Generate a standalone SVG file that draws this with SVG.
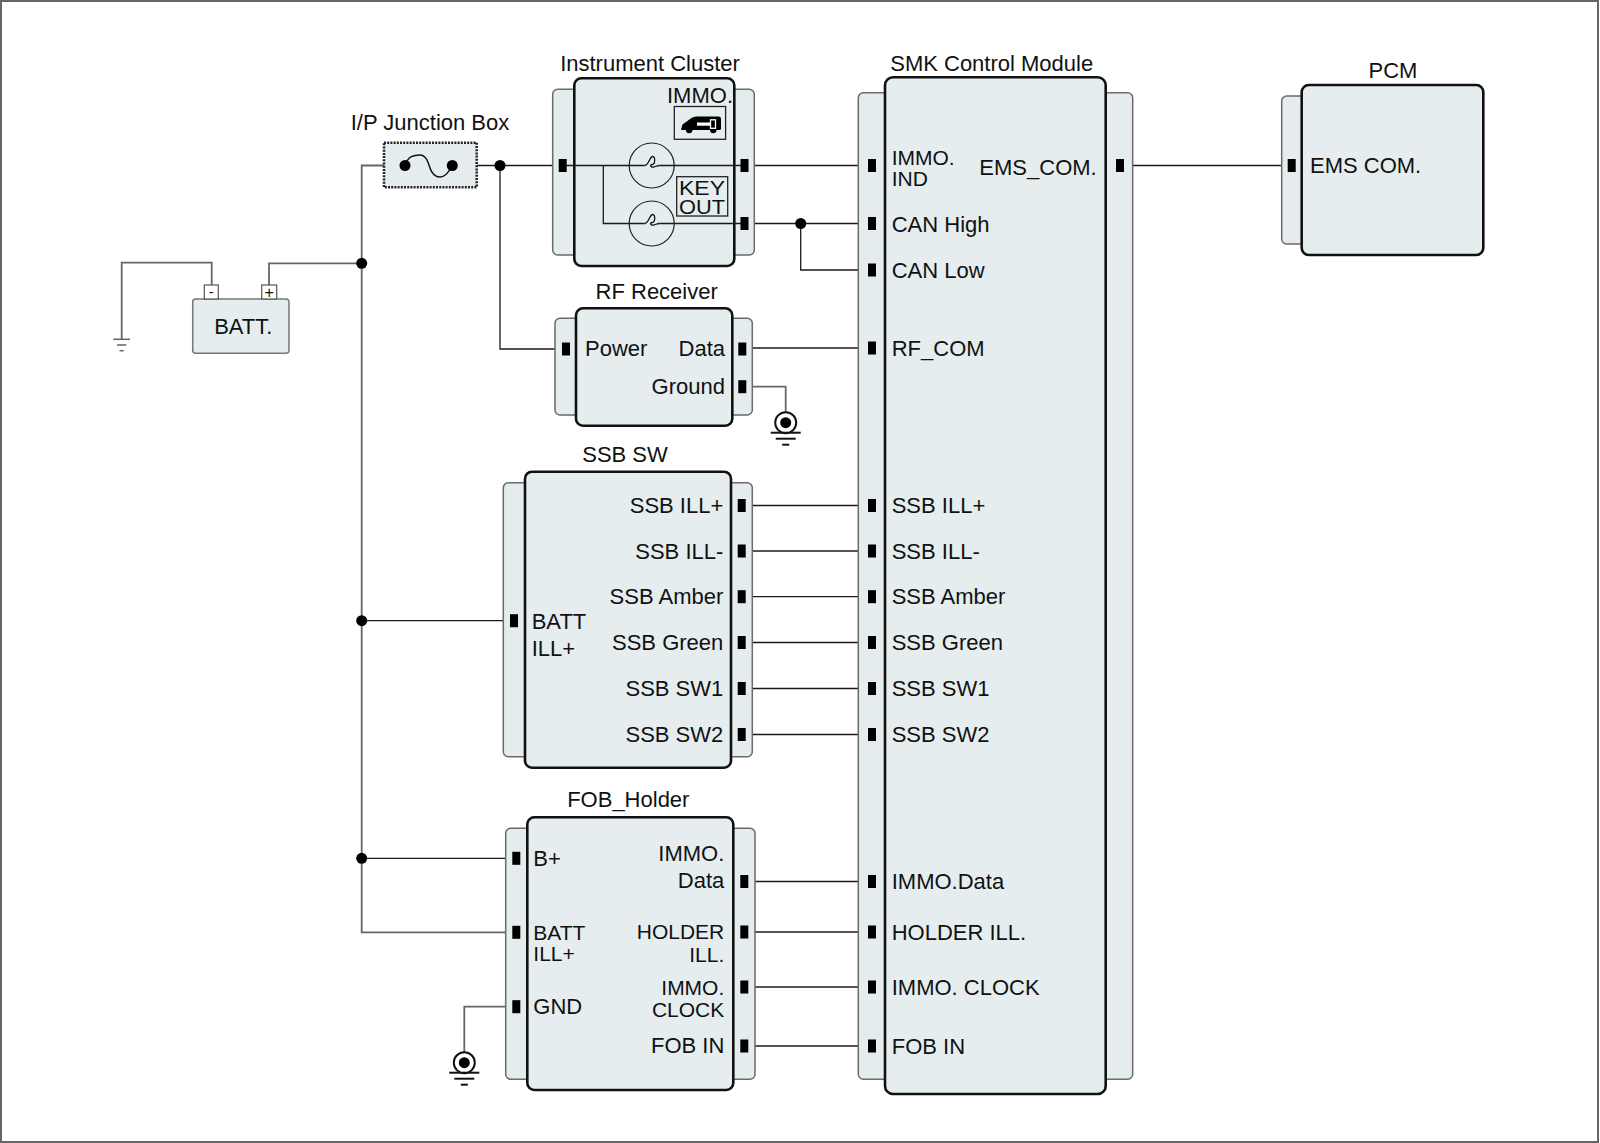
<svg xmlns="http://www.w3.org/2000/svg" width="1600" height="1143" viewBox="0 0 1600 1143">
<style>
.panel{fill:#e4ecee;stroke:#6a6a6a;stroke-width:1.5}
.main{fill:#e5edef;stroke:#111;stroke-width:2.6}
.w{fill:none;stroke:#1a1a1a;stroke-width:1.3}
.g{fill:none;stroke:#666;stroke-width:1.8}
.dot{fill:#000}
.thin{fill:none;stroke:#222;stroke-width:1.2}
.fil{fill:none;stroke:#111;stroke-width:1.3}
text{font-family:"Liberation Sans",Arial,sans-serif;font-size:22px;fill:#111}
.s{font-size:21px}
.m{text-anchor:middle}
.e{text-anchor:end}
</style>
<defs>
<rect id="pin" x="-4" y="-6.5" width="8" height="13" fill="#000"/>
<g id="gnd">
<circle cx="0" cy="0" r="10.5" fill="#fff" stroke="#111" stroke-width="2"/>
<circle cx="0" cy="0" r="5.5" fill="#000"/>
<line x1="-15" y1="10" x2="15" y2="10" stroke="#111" stroke-width="2"/>
<line x1="-10" y1="16" x2="10" y2="16" stroke="#111" stroke-width="2"/>
<line x1="-3.5" y1="22" x2="3.5" y2="22" stroke="#111" stroke-width="2"/>
</g>
<path id="filament" d="M-7,0 C-3,0 -2,-9 1,-9 C4,-9 3.5,-1 0.5,-1 C-2,-1 -1.5,2 2,1.5 C4.5,1 5,0 8,0"/>
</defs>
<rect x="1" y="1" width="1597" height="1141" fill="#fff" stroke="#666" stroke-width="2"/>

<g id="connectors">
<polyline class="g" points="405,165.5 361.7,165.5 361.7,932.3 512,932.3"/>
<polyline class="g" points="361.7,263.3 269,263.3 269,285"/>
<polyline class="g" points="211.7,285 211.7,262.7 121.7,262.7 121.7,339"/>
<line class="w" x1="452.3" y1="165.5" x2="559" y2="165.5"/>
<polyline class="w" points="500,165.5 500,349 562,349"/>
<polyline class="w" points="748,165.5 868,165.5"/>
<polyline class="w" points="748,223.5 868,223.5"/>
<polyline class="w" points="800.7,223.5 800.7,270 868,270"/>
<line class="w" x1="746" y1="348" x2="868" y2="348"/>
<polyline class="g" points="746,386.7 785.7,386.7 785.7,412"/>
<line class="w" x1="745.7" y1="505.5" x2="868" y2="505.5"/>
<line class="w" x1="745.7" y1="551" x2="868" y2="551"/>
<line class="w" x1="745.7" y1="596.7" x2="868" y2="596.7"/>
<line class="w" x1="745.7" y1="642.5" x2="868" y2="642.5"/>
<line class="w" x1="745.7" y1="688.5" x2="868" y2="688.5"/>
<line class="w" x1="745.7" y1="734.5" x2="868" y2="734.5"/>
<line class="w" x1="361.7" y1="620.7" x2="510" y2="620.7"/>
<line class="w" x1="361.7" y1="858.3" x2="512" y2="858.3"/>
<polyline class="g" points="512,1006.7 464.3,1006.7 464.3,1052"/>
<line class="w" x1="748" y1="881.5" x2="868" y2="881.5"/>
<line class="w" x1="748" y1="932" x2="868" y2="932"/>
<line class="w" x1="748" y1="987" x2="868" y2="987"/>
<line class="w" x1="748" y1="1046" x2="868" y2="1046"/>
<line class="w" x1="1124" y1="165.5" x2="1288" y2="165.5"/>
<circle class="dot" cx="500" cy="165.5" r="5.5"/>
<circle class="dot" cx="361.7" cy="263.3" r="5.5"/>
<circle class="dot" cx="361.7" cy="620.7" r="5.5"/>
<circle class="dot" cx="361.7" cy="858.3" r="5.5"/>
<circle class="dot" cx="800.7" cy="223.5" r="5.5"/>
<line x1="113.3" y1="339.3" x2="130" y2="339.3" stroke="#666" stroke-width="1.5"/>
<line x1="117" y1="345" x2="126.3" y2="345" stroke="#666" stroke-width="1.5"/>
<line x1="119.5" y1="350.7" x2="123.8" y2="350.7" stroke="#666" stroke-width="1.5"/>
<use href="#gnd" x="785.7" y="422.7"/>
<use href="#gnd" x="464.3" y="1062.7"/>
</g>

<g id="battery">
<rect x="192.7" y="299" width="96.3" height="54.3" rx="3" fill="#e5edef" stroke="#777" stroke-width="1.5"/>
<rect x="204.3" y="285" width="14" height="14" fill="#fff" stroke="#555" stroke-width="1.2"/>
<rect x="261.7" y="285" width="15" height="14" fill="#fff" stroke="#555" stroke-width="1.2"/>
<text x="211.3" y="297" class="m" style="font-size:15px">-</text>
<text x="269.2" y="297.5" class="m" style="font-size:16px">+</text>
<text x="243.3" y="334" class="m">BATT.</text>
</g>

<g id="ip-junction-box">
<text x="430" y="130" class="m">I/P Junction Box</text>
<rect x="384" y="142.7" width="92.7" height="44.6" fill="#e5edef" stroke="#222" stroke-width="2.6" stroke-dasharray="2 1.2"/>
<path d="M405,165.5 C408,156 414,155 420,155 C426,155 428,162 430,168 C432,174 435,177 440,177 C446,177 450,170 452.3,165.5" fill="none" stroke="#111" stroke-width="1.5"/>
<circle class="dot" cx="405" cy="165.5" r="5.5"/>
<circle class="dot" cx="452.3" cy="165.5" r="5.5"/>
</g>

<g id="instrument-cluster">
<text x="650" y="70.7" class="m">Instrument Cluster</text>
<rect class="panel" x="552.7" y="89.3" width="201.6" height="165.7" rx="5"/>
<rect class="main" x="574.3" y="78.3" width="160" height="187.7" rx="7"/>
<text x="733" y="103.3" class="e">IMMO.</text>
<rect x="674.3" y="106.5" width="51.3" height="32.8" fill="none" stroke="#222" stroke-width="1.3"/>
<path d="M681,129.5 L682.5,124.5 L691.5,118 Q693.5,116.5 696.5,116.5 L718.5,116.5 Q721,116.5 721,119 L721,128.5 Q721,130 719.5,130 L716.5,130 A3.2,3.2 0 0 1 710.1,130 L692.4,130 A3.2,3.2 0 0 1 686,130 L682,130 Z" fill="#000"/>
<rect x="697" y="122.5" width="13" height="3.2" fill="#fff"/>
<rect x="710.5" y="119.8" width="5" height="8.5" fill="none" stroke="#fff" stroke-width="1.3"/>
<rect x="676.7" y="176.7" width="51" height="39.3" fill="none" stroke="#222" stroke-width="1.3"/>
<text x="679" y="194.5" class="s" textLength="46" lengthAdjust="spacingAndGlyphs">KEY</text>
<text x="679" y="214" class="s" textLength="46" lengthAdjust="spacingAndGlyphs">OUT</text>
<line class="w" x1="566" y1="165.5" x2="644.7" y2="165.5"/>
<line class="w" x1="659.7" y1="165.5" x2="741" y2="165.5"/>
<polyline class="w" points="603.3,165.5 603.3,223.5 644.7,223.5"/>
<line class="w" x1="659.7" y1="223.5" x2="741" y2="223.5"/>
<circle class="thin" cx="651.7" cy="165.5" r="22.5"/>
<circle class="thin" cx="651.7" cy="223.5" r="22.5"/>
<use href="#filament" class="fil" x="651.7" y="165.5"/>
<use href="#filament" class="fil" x="651.7" y="223.5"/>
<use href="#pin" x="562.7" y="165.5"/>
<use href="#pin" x="744.5" y="165.5"/>
<use href="#pin" x="744.5" y="223.5"/>
</g>

<g id="rf-receiver">
<text x="656.7" y="299.3" class="m">RF Receiver</text>
<rect class="panel" x="555" y="318.3" width="197.3" height="96.7" rx="5"/>
<rect class="main" x="576" y="308.3" width="156.3" height="117.4" rx="7"/>
<text x="585" y="356">Power</text>
<text x="725" y="356" class="e">Data</text>
<text x="725" y="394.3" class="e">Ground</text>
<use href="#pin" x="566" y="349"/>
<use href="#pin" x="742.3" y="349"/>
<use href="#pin" x="742.3" y="386.7"/>
</g>

<g id="ssb-sw">
<text x="625" y="461.7" class="m">SSB SW</text>
<rect class="panel" x="503.3" y="482.7" width="249" height="274" rx="5"/>
<rect class="main" x="525" y="471.7" width="206" height="296" rx="7"/>
<text x="531.7" y="629">BATT</text>
<text x="531.7" y="655.7">ILL+</text>
<text x="723.3" y="513.2" class="e">SSB ILL+</text>
<text x="723.3" y="558.7" class="e">SSB ILL-</text>
<text x="723.3" y="604.4" class="e">SSB Amber</text>
<text x="723.3" y="650.2" class="e">SSB Green</text>
<text x="723.3" y="696.2" class="e">SSB SW1</text>
<text x="723.3" y="742.2" class="e">SSB SW2</text>
<use href="#pin" x="514" y="620.7"/>
<use href="#pin" x="741.7" y="505.5"/>
<use href="#pin" x="741.7" y="551"/>
<use href="#pin" x="741.7" y="596.7"/>
<use href="#pin" x="741.7" y="642.5"/>
<use href="#pin" x="741.7" y="688.5"/>
<use href="#pin" x="741.7" y="734.5"/>
</g>

<g id="fob-holder">
<text x="628.3" y="806.7" class="m">FOB_Holder</text>
<rect class="panel" x="505.7" y="828.3" width="249.3" height="251" rx="5"/>
<rect class="main" x="527.3" y="817.3" width="206" height="272.7" rx="7"/>
<text x="533.3" y="866">B+</text>
<text x="533.3" y="940" class="s">BATT</text>
<text x="533.3" y="961" class="s">ILL+</text>
<text x="533.3" y="1014">GND</text>
<text x="724.3" y="861" class="e">IMMO.</text>
<text x="724.3" y="888.3" class="e">Data</text>
<text x="724.3" y="939" class="e s">HOLDER</text>
<text x="724.3" y="961.7" class="e s">ILL.</text>
<text x="724.3" y="995" class="e s">IMMO.</text>
<text x="724.3" y="1016.7" class="e s">CLOCK</text>
<text x="724.3" y="1053.3" class="e">FOB IN</text>
<use href="#pin" x="516.3" y="858.3"/>
<use href="#pin" x="516.3" y="932.3"/>
<use href="#pin" x="516.3" y="1006.7"/>
<use href="#pin" x="744.3" y="881.5"/>
<use href="#pin" x="744.3" y="932"/>
<use href="#pin" x="744.3" y="987"/>
<use href="#pin" x="744.3" y="1046"/>
</g>

<g id="smk-control-module">
<text x="991.7" y="70.7" class="m">SMK Control Module</text>
<rect class="panel" x="858.3" y="92.7" width="274.4" height="986.6" rx="5"/>
<rect class="main" x="885" y="77.3" width="220.7" height="1016.7" rx="8"/>
<text x="891.7" y="165" class="s">IMMO.</text>
<text x="891.7" y="186" class="s">IND</text>
<text x="1096.7" y="175" class="e">EMS_COM.</text>
<text x="891.7" y="231.5">CAN High</text>
<text x="891.7" y="278">CAN Low</text>
<text x="891.7" y="355.7">RF_COM</text>
<text x="891.7" y="513.2">SSB ILL+</text>
<text x="891.7" y="558.7">SSB ILL-</text>
<text x="891.7" y="604.4">SSB Amber</text>
<text x="891.7" y="650.2">SSB Green</text>
<text x="891.7" y="696.2">SSB SW1</text>
<text x="891.7" y="742.2">SSB SW2</text>
<text x="891.7" y="889.2">IMMO.Data</text>
<text x="891.7" y="939.7">HOLDER ILL.</text>
<text x="891.7" y="994.7">IMMO. CLOCK</text>
<text x="891.7" y="1053.7">FOB IN</text>
<use href="#pin" x="872" y="165.5"/>
<use href="#pin" x="872" y="223.5"/>
<use href="#pin" x="872" y="270"/>
<use href="#pin" x="872" y="348"/>
<use href="#pin" x="872" y="505.5"/>
<use href="#pin" x="872" y="551"/>
<use href="#pin" x="872" y="596.7"/>
<use href="#pin" x="872" y="642.5"/>
<use href="#pin" x="872" y="688.5"/>
<use href="#pin" x="872" y="734.5"/>
<use href="#pin" x="872" y="881.5"/>
<use href="#pin" x="872" y="932"/>
<use href="#pin" x="872" y="987"/>
<use href="#pin" x="872" y="1046"/>
<use href="#pin" x="1120" y="165.5"/>
</g>

<g id="pcm">
<text x="1393" y="78" class="m">PCM</text>
<rect class="panel" x="1281.7" y="96" width="40" height="148" rx="5"/>
<rect class="main" x="1301.7" y="85" width="181.6" height="170" rx="7"/>
<text x="1310" y="173.3">EMS COM.</text>
<use href="#pin" x="1291.7" y="165.5"/>
</g>
</svg>
